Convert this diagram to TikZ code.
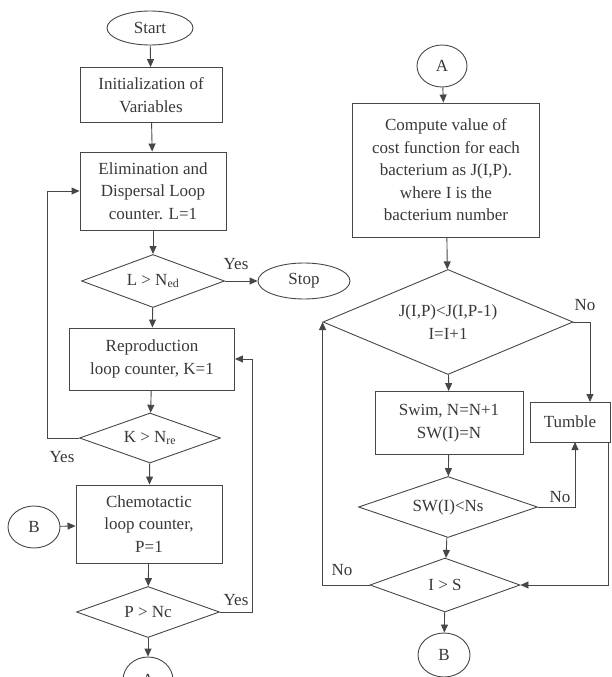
\documentclass[tikz,border=0pt]{standalone}
\usepackage{fontspec}
\setmainfont{Liberation Serif}
\usetikzlibrary{arrows.meta,shapes.geometric}
\definecolor{lineGrey}{HTML}{474747}
\definecolor{textGrey}{HTML}{383838}

\begin{document}
\begin{tikzpicture}[x=1pt,y=-1pt, >={Triangle[length=8pt,width=7pt]},
  font=\fontsize{17}{22.5}\selectfont,
  box/.style={draw=lineGrey,line width=0.9pt,align=center,inner sep=2pt,text=textGrey},
  dec/.style={diamond,shape aspect=2.8,draw=lineGrey,line width=0.9pt,align=center,inner sep=0pt,text=textGrey},
  term/.style={ellipse,draw=lineGrey,line width=0.9pt,inner sep=0pt,text=textGrey},
  lbl/.style={text=textGrey},
  flow/.style={lineGrey,line width=0.9pt,->}]
\useasboundingbox (0,0) rectangle (612,677);
% --- left column: outer loops ---
  \node[term,minimum width=86,minimum height=34] (start) at (150,28) {Start};
  \node[box,minimum width=142,minimum height=55] (init) at (151,95) {Initialization of\\ Variables};
  \node[box,minimum width=146,minimum height=78] (elim) at (153,191) {Elimination and\\ Dispersal Loop\\ counter. L=1};
  \node[dec,minimum width=143,minimum height=53] (ldec) at (153,281) {L > N\textsubscript{ed}};
  \node[term,minimum width=92,minimum height=36] (stop) at (304,281) {Stop};
  \node[box,minimum width=165,minimum height=62] (repro) at (152,359) {Reproduction\\ loop counter, K=1};
  \node[dec,minimum width=141,minimum height=50] (kdec) at (150,438) {K > N\textsubscript{re}};
  \node[box,minimum width=146,minimum height=78] (chemo) at (149,524) {Chemotactic\\ loop counter,\\ P=1};
  \node[term,minimum width=52,minimum height=42] (bleft) at (34,527) {B};
  \node[dec,minimum width=143,minimum height=51] (pdec) at (148,612) {P > Nc};
  \node[term,minimum width=50,minimum height=46] (abot) at (148,680) {A};
  \draw[flow] (start)--(init);
  \draw[flow] (init)--(elim);
  \draw[flow] (elim)--(ldec);
  \draw[flow] (ldec)--(stop);
  \node[lbl] (yes1) at (236,264) {Yes};
  \draw[flow] (ldec)--(repro);
  \draw[flow] (repro)--(kdec);
  \draw[flow] (kdec)--(chemo);
  \draw[flow] (chemo)--(pdec);
  \draw[flow] (pdec)--(abot);
  \draw[flow] (bleft)--(chemo);
  % back to elimination loop
  \draw[flow] (kdec.west) -- (47,438) |- (elim.west);
  \node[lbl] (yes2) at (62,457) {Yes};
  % back to reproduction loop
  \draw[flow] (pdec.east) -- (252,612) |- (repro.east);
  \node[lbl] (yes3) at (236,600) {Yes};
% --- right column: chemotaxis ---
  \node[term,minimum width=50,minimum height=42] (atop) at (442,66) {A};
  \node[box,minimum width=187,minimum height=134] (cost) at (446,170) {Compute value of\\ cost function for each\\ bacterium as J(I,P).\\ where I is the\\ bacterium number};
  \node[dec,shape aspect=2.38,minimum width=250,minimum height=105] (jdec) at (448,322) {J(I,P)<J(I,P-1)\\ I=I+1};
  \node[box,minimum width=148,minimum height=63] (swim) at (449,423) {Swim, N=N+1\\ SW(I)=N};
  \node[box,minimum width=80,minimum height=40] (tumble) at (570,422) {Tumble};
  \node[dec,shape aspect=2.93,minimum width=179,minimum height=61] (swdec) at (448,507) {SW(I)<Ns};
  \node[dec,minimum width=150,minimum height=54] (idec) at (445,585) {I > S};
  \node[term,minimum width=52,minimum height=44] (bbot) at (444,655) {B};
  \draw[flow] (atop)--(cost);
  \draw[flow] (cost)--(jdec);
  \draw[flow] (jdec)--(swim);
  \draw[flow] (swim)--(swdec);
  \draw[flow] (swdec)--(idec);
  \draw[flow] (idec)--(bbot);
  \draw[flow] (jdec.east) -- (590,322) -- (590,402);
  \node[lbl] (no1) at (585,305) {No};
  \draw[flow] (swdec.east) -- (575,507) -- (575,442);
  \node[lbl] (no2) at (560,497) {No};
  \draw[flow] ([xshift=-2pt]tumble.south east) |- (idec.east);
  % loop over bacteria
  \draw[flow] (idec.west) -| (jdec.west);
  \node[lbl] (no3) at (342,570) {No};
\end{tikzpicture}
\end{document}
